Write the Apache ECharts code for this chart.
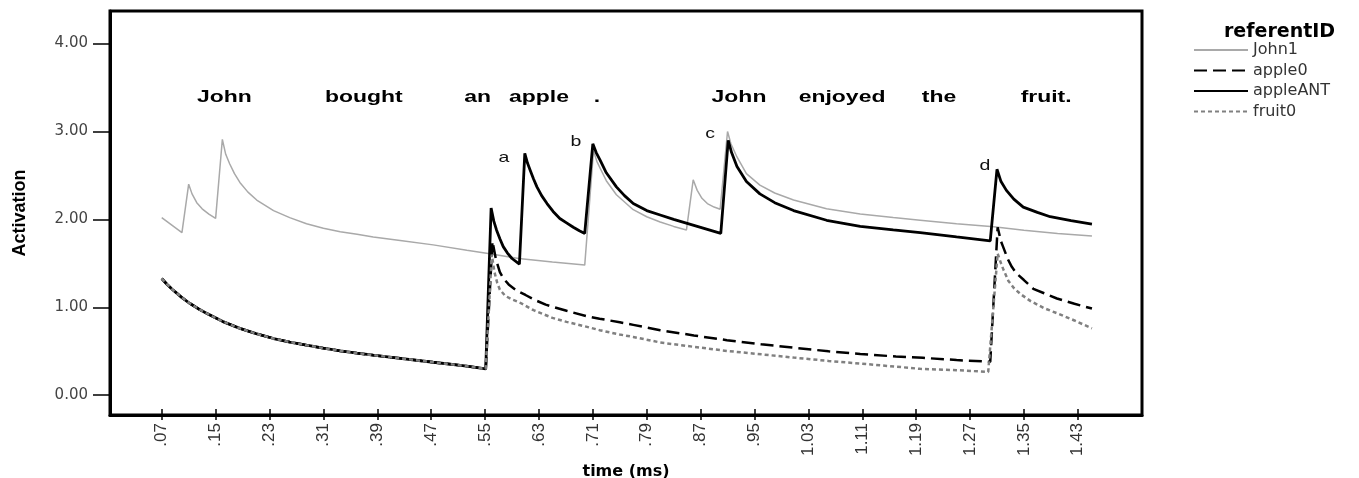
<!DOCTYPE html>
<html><head><meta charset="utf-8">
<script src="https://cdn.jsdelivr.net/npm/echarts@6/dist/echarts.min.js"></script>
<style>html,body{margin:0;padding:0;background:#fff}#c{width:1359px;height:478px}</style>
</head><body><div id="c"></div>
<script>
// ---- data: [time, activation] ----
const sharedStart = [[0.070,1.327],[0.078,1.26],[0.087,1.195],[0.100,1.11],[0.112,1.043],[0.125,0.98],[0.137,0.93],[0.160,0.84],[0.186,0.76],[0.210,0.70],[0.236,0.645],[0.260,0.605],[0.285,0.569],[0.310,0.535],[0.335,0.504],[0.360,0.478],[0.384,0.455],[0.424,0.42],[0.473,0.375],[0.523,0.33],[0.551,0.30]];

const john1 = [[0.070,2.02],[0.100,1.85],[0.110,2.40],[0.115,2.29],[0.122,2.19],[0.130,2.12],[0.140,2.06],[0.150,2.01],[0.160,2.91],[0.165,2.74],[0.171,2.63],[0.178,2.52],[0.186,2.42],[0.198,2.31],[0.211,2.22],[0.236,2.10],[0.260,2.02],[0.285,1.95],[0.310,1.90],[0.335,1.86],[0.360,1.83],[0.384,1.80],[0.424,1.76],[0.473,1.71],[0.523,1.65],[0.557,1.61],[0.600,1.555],[0.650,1.515],[0.698,1.48],[0.711,2.78],[0.716,2.66],[0.721,2.58],[0.730,2.44],[0.745,2.28],[0.770,2.11],[0.790,2.03],[0.810,1.97],[0.830,1.92],[0.849,1.88],[0.859,2.45],[0.865,2.33],[0.872,2.24],[0.880,2.18],[0.890,2.14],[0.899,2.115],[0.910,3.00],[0.915,2.86],[0.924,2.71],[0.938,2.52],[0.958,2.39],[0.980,2.30],[1.008,2.22],[1.057,2.12],[1.107,2.06],[1.156,2.02],[1.196,1.99],[1.250,1.95],[1.305,1.915],[1.350,1.875],[1.400,1.84],[1.451,1.81]];

const appleANTRest = [[0.559,2.13],[0.563,1.98],[0.567,1.88],[0.572,1.78],[0.577,1.69],[0.583,1.62],[0.590,1.555],[0.601,1.49],[0.609,2.75],[0.613,2.64],[0.617,2.56],[0.622,2.46],[0.627,2.37],[0.634,2.27],[0.642,2.18],[0.651,2.09],[0.661,2.01],[0.671,1.96],[0.681,1.91],[0.690,1.87],[0.698,1.84],[0.710,2.86],[0.715,2.76],[0.721,2.67],[0.730,2.53],[0.745,2.37],[0.757,2.27],[0.770,2.18],[0.790,2.10],[0.810,2.05],[0.830,2.00],[0.850,1.955],[0.870,1.91],[0.885,1.875],[0.900,1.84],[0.911,2.90],[0.916,2.76],[0.924,2.60],[0.938,2.43],[0.958,2.29],[0.980,2.19],[1.008,2.10],[1.057,1.99],[1.107,1.92],[1.156,1.88],[1.196,1.85],[1.250,1.80],[1.300,1.755],[1.310,2.57],[1.316,2.43],[1.324,2.33],[1.335,2.23],[1.349,2.14],[1.370,2.08],[1.389,2.03],[1.420,1.985],[1.451,1.945]];

const apple0Rest = [[0.561,1.75],[0.566,1.55],[0.572,1.40],[0.577,1.33],[0.585,1.26],[0.597,1.19],[0.610,1.14],[0.625,1.08],[0.640,1.03],[0.671,0.96],[0.700,0.90],[0.720,0.87],[0.750,0.83],[0.770,0.80],[0.810,0.74],[0.860,0.68],[0.909,0.626],[0.960,0.58],[1.008,0.54],[1.060,0.50],[1.107,0.47],[1.160,0.44],[1.200,0.425],[1.250,0.40],[1.300,0.38],[1.311,1.91],[1.316,1.75],[1.319,1.69],[1.326,1.55],[1.332,1.46],[1.339,1.385],[1.350,1.31],[1.364,1.21],[1.380,1.16],[1.399,1.10],[1.425,1.04],[1.451,0.986]];

const fruit0Rest = [[0.560,1.60],[0.564,1.40],[0.568,1.28],[0.572,1.20],[0.580,1.13],[0.590,1.09],[0.600,1.06],[0.622,0.967],[0.650,0.88],[0.671,0.834],[0.700,0.78],[0.720,0.74],[0.750,0.69],[0.770,0.663],[0.810,0.60],[0.860,0.55],[0.909,0.504],[0.960,0.465],[1.008,0.428],[1.060,0.39],[1.107,0.36],[1.160,0.325],[1.196,0.30],[1.250,0.285],[1.297,0.265],[1.311,1.61],[1.316,1.50],[1.320,1.42],[1.327,1.30],[1.335,1.22],[1.345,1.15],[1.360,1.07],[1.380,0.99],[1.400,0.93],[1.425,0.85],[1.451,0.76]];

const apple0 = sharedStart.concat(apple0Rest);
const appleANT = sharedStart.concat(appleANTRest);
const fruit0 = sharedStart.concat(fruit0Rest);

const words = [['John',0.163,3.385],['bought',0.370,3.385],['an',0.539,3.385],['apple',0.630,3.385],['.',0.716,3.385],['John',0.927,3.385],['enjoyed',1.080,3.385],['the',1.224,3.385],['fruit.',1.383,3.385]];
const markers = [['a',0.578,2.695],['b',0.685,2.877],['c',0.884,2.968],['d',1.292,2.604]];

const xTickValues = [0.07,0.15,0.23,0.31,0.39,0.47,0.55,0.63,0.71,0.79,0.87,0.95,1.03,1.11,1.19,1.27,1.35,1.43];
const xTickLabels = ['.07','.15','.23','.31','.39','.47','.55','.63','.71','.79','.87','.95','1.03','1.11','1.19','1.27','1.35','1.43'];
const yTickValues = [0,1,2,3,4];
const yTickLabels = ['0.00','1.00','2.00','3.00','4.00'];

const seriesNames = ['John1','apple0','appleANT','fruit0'];

function lookup(vals, labels, v){
  for (let i=0;i<vals.length;i++){ if (Math.abs(vals[i]-v)<1e-6) return labels[i]; }
  return '';
}

const chart = echarts.init(document.getElementById('c'));
function textSeries(name, list, font, color, sx){
  return {
    type:'custom', name:name, silent:true, z:10,
    data: list.map(w=>[w[1],w[2]]),
    renderItem: function(params, api){
      const p = api.coord([api.value(0), api.value(1)]);
      return {type:'text', x:p[0], y:p[1], scaleX:sx,
        style:{text:list[params.dataIndex][0], font:font, fill:color, align:'center', verticalAlign:'middle'}};
    }
  };
}
function lineSeries(name, data, ls, z){
  return {name:name, type:'line', data:data, showSymbol:false, symbol:'none',
    lineStyle:ls, itemStyle:{color:ls.color}, z:z};
}
chart.setOption({
  animation:false,
  backgroundColor:'#fff',
  title:{text:'referentID', left:1219, top:18, textStyle:{fontFamily:'DejaVu Sans', fontWeight:'bold', fontSize:19, color:'#000'}},
  legend:{
    data:seriesNames, orient:'vertical', left:1193, top:42, padding:0, itemWidth:54, itemHeight:14, itemGap:4.5,
    selectedMode:false, itemStyle:{opacity:0, borderWidth:0},
    textStyle:{fontFamily:'DejaVu Sans', fontSize:16, color:'#333'}
  },
  grid:{left:110, right:217, top:11, bottom:63, show:true, borderColor:'#000', borderWidth:3,
    containLabel:false, outerBoundsMode:'none'},
  xAxis:[{
    type:'value', min:-0.0068, max:1.5253,
    name:'time (ms)', nameLocation:'middle', nameGap:44,
    nameTextStyle:{fontFamily:'DejaVu Sans', fontWeight:'bold', fontSize:16, color:'#000'},
    axisLine:{show:true, onZero:false, lineStyle:{color:'#000', width:3}},
    axisTick:{show:true, inside:false, length:5, lineStyle:{color:'#000', width:1.5}, customValues:xTickValues},
    axisLabel:{show:true, rotate:90, margin:8, customValues:xTickValues,
      formatter:v=>lookup(xTickValues,xTickLabels,v),
      fontFamily:"'Liberation Sans Narrow','Liberation Sans',sans-serif", fontSize:17, color:'#333'},
    splitLine:{show:false}
  },{
    type:'value', min:-0.0068, max:1.5253, position:'bottom',
    axisLine:{show:false, onZero:false},
    axisTick:{show:true, inside:true, length:6, lineStyle:{color:'#000', width:1.5}, customValues:xTickValues},
    axisLabel:{show:false}, splitLine:{show:false}
  }],
  yAxis:{
    type:'value', min:-0.225, max:4.37,
    name:'Activation', nameLocation:'middle', nameGap:81, nameRotate:90,
    nameTextStyle:{fontFamily:"'Liberation Sans Narrow','Liberation Sans',sans-serif", fontWeight:'bold', fontSize:18, color:'#000'},
    axisLine:{show:true, onZero:false, lineStyle:{color:'#000', width:3}},
    axisTick:{show:true, inside:false, length:17, lineStyle:{color:'#000', width:1.5}, customValues:yTickValues},
    axisLabel:{show:true, margin:22, customValues:yTickValues,
      formatter:v=>lookup(yTickValues,yTickLabels,v),
      fontFamily:'DejaVu Sans', fontSize:15, color:'#444'},
    splitLine:{show:false}
  },
  series:[
    lineSeries('John1', john1, {color:'#a9a9a9', width:1.5}, 2),
    lineSeries('apple0', apple0, {color:'#000', width:2.5, type:[13,6]}, 3),
    lineSeries('appleANT', appleANT, {color:'#000', width:2.8}, 4),
    lineSeries('fruit0', fruit0, {color:'#808080', width:2.5, type:[4,3]}, 5),
    textSeries('words', words, 'bold 17px "Liberation Sans"', '#000', 1.35),
    textSeries('markers', markers, '15px "Liberation Sans"', '#111', 1.3)
  ]
});
</script></body></html>
